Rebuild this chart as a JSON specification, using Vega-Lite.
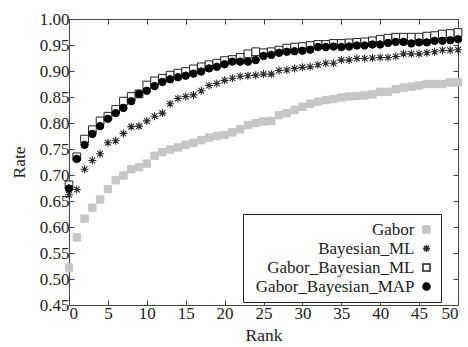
{
  "$schema": "https://vega.github.io/schema/vega-lite/v6.json",
  "width": 389,
  "height": 286,
  "autosize": {"type": "none"},
  "padding": {"left": 69, "top": 19, "right": 10, "bottom": 42},
  "background": "white",
  "config": {
    "view": {"stroke": "#444", "strokeWidth": 1},
    "font": "Liberation Serif",
    "axis": {
      "labelFont": "Liberation Serif", "labelFontSize": 17, "labelColor": "#222",
      "titleFont": "Liberation Serif", "titleFontSize": 17.5, "titleFontWeight": "normal", "titleColor": "#222",
      "grid": false, "domainColor": "#444", "tickColor": "#444", "tickSize": -5, "labelPadding": 5
    },
    "legend": {
      "labelFont": "Liberation Serif", "labelFontSize": 17, "labelColor": "#222",
      "labelAlign": "right", "labelOffset": -20.5, "symbolOffset": 168, "symbolSize": 50, "rowPadding": 1,
      "strokeColor": "#222", "fillColor": "white", "padding": 7
    }
  },
  "datasets": {
    "rates": [
      {"rank": 0, "Gabor": 0.522, "Bayesian_ML": 0.662, "GBML": 0.681, "GBMAP": 0.674},
      {"rank": 1, "Gabor": 0.580, "Bayesian_ML": 0.672, "GBML": 0.735, "GBMAP": 0.731},
      {"rank": 2, "Gabor": 0.616, "Bayesian_ML": 0.711, "GBML": 0.769, "GBMAP": 0.758},
      {"rank": 3, "Gabor": 0.637, "Bayesian_ML": 0.728, "GBML": 0.787, "GBMAP": 0.779},
      {"rank": 4, "Gabor": 0.653, "Bayesian_ML": 0.741, "GBML": 0.804, "GBMAP": 0.794},
      {"rank": 5, "Gabor": 0.673, "Bayesian_ML": 0.762, "GBML": 0.813, "GBMAP": 0.808},
      {"rank": 6, "Gabor": 0.690, "Bayesian_ML": 0.766, "GBML": 0.826, "GBMAP": 0.819},
      {"rank": 7, "Gabor": 0.699, "Bayesian_ML": 0.780, "GBML": 0.842, "GBMAP": 0.829},
      {"rank": 8, "Gabor": 0.711, "Bayesian_ML": 0.793, "GBML": 0.851, "GBMAP": 0.842},
      {"rank": 9, "Gabor": 0.715, "Bayesian_ML": 0.794, "GBML": 0.856, "GBMAP": 0.856},
      {"rank": 10, "Gabor": 0.722, "Bayesian_ML": 0.804, "GBML": 0.873, "GBMAP": 0.862},
      {"rank": 11, "Gabor": 0.737, "Bayesian_ML": 0.813, "GBML": 0.881, "GBMAP": 0.871},
      {"rank": 12, "Gabor": 0.744, "Bayesian_ML": 0.819, "GBML": 0.886, "GBMAP": 0.879},
      {"rank": 13, "Gabor": 0.749, "Bayesian_ML": 0.837, "GBML": 0.892, "GBMAP": 0.884},
      {"rank": 14, "Gabor": 0.753, "Bayesian_ML": 0.847, "GBML": 0.896, "GBMAP": 0.888},
      {"rank": 15, "Gabor": 0.758, "Bayesian_ML": 0.851, "GBML": 0.899, "GBMAP": 0.891},
      {"rank": 16, "Gabor": 0.762, "Bayesian_ML": 0.854, "GBML": 0.904, "GBMAP": 0.895},
      {"rank": 17, "Gabor": 0.767, "Bayesian_ML": 0.862, "GBML": 0.908, "GBMAP": 0.899},
      {"rank": 18, "Gabor": 0.772, "Bayesian_ML": 0.872, "GBML": 0.912, "GBMAP": 0.905},
      {"rank": 19, "Gabor": 0.775, "Bayesian_ML": 0.876, "GBML": 0.915, "GBMAP": 0.908},
      {"rank": 20, "Gabor": 0.777, "Bayesian_ML": 0.882, "GBML": 0.920, "GBMAP": 0.913},
      {"rank": 21, "Gabor": 0.782, "Bayesian_ML": 0.886, "GBML": 0.922, "GBMAP": 0.918},
      {"rank": 22, "Gabor": 0.788, "Bayesian_ML": 0.890, "GBML": 0.926, "GBMAP": 0.918},
      {"rank": 23, "Gabor": 0.796, "Bayesian_ML": 0.891, "GBML": 0.933, "GBMAP": 0.918},
      {"rank": 24, "Gabor": 0.800, "Bayesian_ML": 0.892, "GBML": 0.937, "GBMAP": 0.921},
      {"rank": 25, "Gabor": 0.803, "Bayesian_ML": 0.894, "GBML": 0.935, "GBMAP": 0.929},
      {"rank": 26, "Gabor": 0.804, "Bayesian_ML": 0.894, "GBML": 0.937, "GBMAP": 0.931},
      {"rank": 27, "Gabor": 0.815, "Bayesian_ML": 0.901, "GBML": 0.940, "GBMAP": 0.935},
      {"rank": 28, "Gabor": 0.819, "Bayesian_ML": 0.902, "GBML": 0.944, "GBMAP": 0.937},
      {"rank": 29, "Gabor": 0.825, "Bayesian_ML": 0.905, "GBML": 0.946, "GBMAP": 0.938},
      {"rank": 30, "Gabor": 0.831, "Bayesian_ML": 0.907, "GBML": 0.947, "GBMAP": 0.939},
      {"rank": 31, "Gabor": 0.837, "Bayesian_ML": 0.908, "GBML": 0.949, "GBMAP": 0.941},
      {"rank": 32, "Gabor": 0.841, "Bayesian_ML": 0.912, "GBML": 0.951, "GBMAP": 0.946},
      {"rank": 33, "Gabor": 0.844, "Bayesian_ML": 0.915, "GBML": 0.951, "GBMAP": 0.946},
      {"rank": 34, "Gabor": 0.846, "Bayesian_ML": 0.915, "GBML": 0.953, "GBMAP": 0.947},
      {"rank": 35, "Gabor": 0.849, "Bayesian_ML": 0.921, "GBML": 0.953, "GBMAP": 0.946},
      {"rank": 36, "Gabor": 0.851, "Bayesian_ML": 0.921, "GBML": 0.954, "GBMAP": 0.947},
      {"rank": 37, "Gabor": 0.852, "Bayesian_ML": 0.924, "GBML": 0.955, "GBMAP": 0.949},
      {"rank": 38, "Gabor": 0.853, "Bayesian_ML": 0.924, "GBML": 0.956, "GBMAP": 0.949},
      {"rank": 39, "Gabor": 0.855, "Bayesian_ML": 0.925, "GBML": 0.958, "GBMAP": 0.951},
      {"rank": 40, "Gabor": 0.860, "Bayesian_ML": 0.926, "GBML": 0.961, "GBMAP": 0.951},
      {"rank": 41, "Gabor": 0.860, "Bayesian_ML": 0.926, "GBML": 0.963, "GBMAP": 0.954},
      {"rank": 42, "Gabor": 0.865, "Bayesian_ML": 0.928, "GBML": 0.965, "GBMAP": 0.956},
      {"rank": 43, "Gabor": 0.868, "Bayesian_ML": 0.933, "GBML": 0.965, "GBMAP": 0.956},
      {"rank": 44, "Gabor": 0.870, "Bayesian_ML": 0.933, "GBML": 0.965, "GBMAP": 0.953},
      {"rank": 45, "Gabor": 0.872, "Bayesian_ML": 0.933, "GBML": 0.965, "GBMAP": 0.955},
      {"rank": 46, "Gabor": 0.875, "Bayesian_ML": 0.935, "GBML": 0.967, "GBMAP": 0.955},
      {"rank": 47, "Gabor": 0.875, "Bayesian_ML": 0.937, "GBML": 0.968, "GBMAP": 0.958},
      {"rank": 48, "Gabor": 0.875, "Bayesian_ML": 0.940, "GBML": 0.971, "GBMAP": 0.958},
      {"rank": 49, "Gabor": 0.878, "Bayesian_ML": 0.940, "GBML": 0.972, "GBMAP": 0.959},
      {"rank": 50, "Gabor": 0.878, "Bayesian_ML": 0.941, "GBML": 0.974, "GBMAP": 0.961}
    ]
  },
  "data": {"name": "rates"},
  "resolve": {"axis": {"x": "independent", "y": "independent"}},
  "layer": [
    {
      "mark": {"type": "point", "filled": true, "opacity": 1, "size": 55, "strokeWidth": 1},
      "encoding": {
        "x": {"field": "rank", "type": "quantitative", "scale": {"domain": [0, 50], "nice": false, "zero": false},
              "axis": {"orient": "bottom", "title": "Rank", "values": [0,5,10,15,20,25,30,35,40,45,50], "titlePadding": 5}},
        "y": {"field": "Gabor", "type": "quantitative", "scale": {"domain": [0.45, 1.0], "nice": false, "zero": false},
              "axis": {"orient": "left", "title": "Rate", "format": ".2f", "values": [0.45,0.5,0.55,0.6,0.65,0.7,0.75,0.8,0.85,0.9,0.95,1.0], "titlePadding": 11}},
        "shape": {"datum": "Gabor", "type": "nominal",
                  "scale": {"domain": ["Gabor", "Bayesian_ML", "Gabor_Bayesian_ML", "Gabor_Bayesian_MAP"],
                            "range": ["square", "M-1,0L1,0M0,-1L0,1M-0.72,-0.72L0.72,0.72M-0.72,0.72L0.72,-0.72", "square", "circle"]},
                  "legend": {"title": null, "orient": "none", "legendX": 174, "legendY": 195}},
        "fill": {"datum": "Gabor", "type": "nominal",
                 "scale": {"domain": ["Gabor", "Bayesian_ML", "Gabor_Bayesian_ML", "Gabor_Bayesian_MAP"],
                           "range": ["#c6c6c6", "#ffffff", "#ffffff", "#000000"]},
                 "legend": {"title": null, "orient": "none", "legendX": 174, "legendY": 195}},
        "stroke": {"datum": "Gabor", "type": "nominal",
                   "scale": {"domain": ["Gabor", "Bayesian_ML", "Gabor_Bayesian_ML", "Gabor_Bayesian_MAP"],
                             "range": ["#c6c6c6", "#2a2a2a", "#222222", "#000000"]},
                   "legend": {"title": null, "orient": "none", "legendX": 174, "legendY": 195}}
      }
    },
    {
      "mark": {"type": "point", "filled": true, "opacity": 1, "size": 64, "strokeWidth": 1.1},
      "encoding": {
        "x": {"field": "rank", "type": "quantitative", "axis": null},
        "y": {"field": "Bayesian_ML", "type": "quantitative", "axis": null},
        "shape": {"datum": "Bayesian_ML", "type": "nominal"},
        "fill": {"datum": "Bayesian_ML", "type": "nominal"},
        "stroke": {"datum": "Bayesian_ML", "type": "nominal"}
      }
    },
    {
      "mark": {"type": "point", "filled": true, "opacity": 1, "size": 60, "strokeWidth": 1},
      "encoding": {
        "x": {"field": "rank", "type": "quantitative", "axis": null},
        "y": {"field": "GBML", "type": "quantitative", "axis": null},
        "shape": {"datum": "Gabor_Bayesian_ML", "type": "nominal"},
        "fill": {"datum": "Gabor_Bayesian_ML", "type": "nominal"},
        "stroke": {"datum": "Gabor_Bayesian_ML", "type": "nominal"}
      }
    },
    {
      "mark": {"type": "point", "filled": true, "opacity": 1, "size": 55, "strokeWidth": 1},
      "encoding": {
        "x": {"field": "rank", "type": "quantitative", "axis": null},
        "y": {"field": "GBMAP", "type": "quantitative", "axis": null},
        "shape": {"datum": "Gabor_Bayesian_MAP", "type": "nominal"},
        "fill": {"datum": "Gabor_Bayesian_MAP", "type": "nominal"},
        "stroke": {"datum": "Gabor_Bayesian_MAP", "type": "nominal"}
      }
    },
    {
      "mark": {"type": "point", "opacity": 0},
      "encoding": {
        "x": {"field": "rank", "type": "quantitative",
              "axis": {"orient": "top", "title": null, "labels": false, "values": [0,5,10,15,20,25,30,35,40,45,50]}},
        "y": {"field": "Gabor", "type": "quantitative",
              "axis": {"orient": "right", "title": null, "labels": false, "values": [0.45,0.5,0.55,0.6,0.65,0.7,0.75,0.8,0.85,0.9,0.95,1.0]}}
      }
    }
  ]
}
